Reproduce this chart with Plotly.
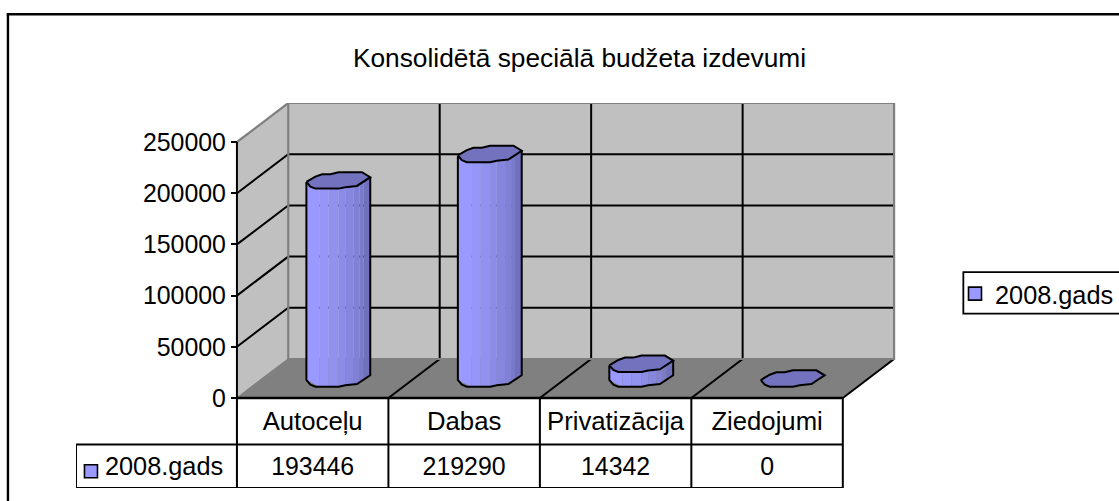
import numpy as np
import plotly.graph_objects as go

# ---------- data ----------
categories = ["Autoceļu", "Dabas", "Privatizācija", "Ziedojumi"]
series_name = "2008.gads"
values = [193446, 219290, 14342, 0]
y_ticks = [0, 50000, 100000, 150000, 200000, 250000]
title_text = "Konsolidētā speciālā budžeta izdevumi"

# ---------- layout / projection constants ----------
W, H = 1119, 501
UNIT_PX = 151.8                 # one category, in pixels
DEPTH_X_PX, DEPTH_Y_PX = 51.4, 39.0
VAL_PX = 256.0 / 250000         # pixels per value unit
DX = DEPTH_X_PX / UNIT_PX
DY = DEPTH_Y_PX / VAL_PX
NCAT = len(categories)
YMAX = y_ticks[-1]
ORIGIN_X, ORIGIN_Y = 237.0, 398.3   # pixel of value 0 at the front-left corner

def px_x(p):
    return p / UNIT_PX
def px_y(p):
    return p / VAL_PX

ROW1_Y, ROW2_Y, ROW3_Y = 0.0, -px_y(46.5), -px_y(90.0)
TABLE_LEFT = -px_x(161.3)
# the plot area runs to the right edge of the page so that the legend sits inside it
X_RANGE = [TABLE_LEFT, px_x(W - ORIGIN_X)]
Y_RANGE = [ROW3_Y, YMAX + DY]
PLOT_L = ORIGIN_X + X_RANGE[0] * UNIT_PX
PLOT_R = ORIGIN_X + X_RANGE[1] * UNIT_PX
PLOT_B = ORIGIN_Y - Y_RANGE[0] * VAL_PX
PLOT_T = ORIGIN_Y - Y_RANGE[1] * VAL_PX

def paper_x(p):
    return (p - PLOT_L) / (PLOT_R - PLOT_L)
def paper_y(p):
    return (PLOT_B - p) / (PLOT_B - PLOT_T)

# Cylinder outline profile, in pixels around the cylinder axis (y down)
BACK_EDGE = [(-32, 1.5), (-23, -3.8), (-16.3, -6.2), (-8, -6.2), (0.3, -8.2), (23.7, -8.2), (32, -3.2)]
FRONT_EDGE = [(-32, 1.5), (-28, 6.2), (-23, 8.2), (0.3, 8.2), (7, 6.8), (18.7, 5.5), (32, -3.2)]
STRIP_EDGES = [-32, -18.7, -9.7, 0.3, 7, 15.3, 21.3, 25.3, 32]
STRIP_COLORS = ["#9999FF", "#9696F9", "#9191F0", "#8C8CE8", "#8686DE", "#8080D4", "#7A7ACA", "#7070BC"]
CAP_COLOR = "#7272BF"
WALL = "#C0C0C0"
FLOOR = "#808080"
EDGE = "#808080"
BLACK = "#000000"
LINE_W = 2.0
FONT = "Liberation Sans, Arial, sans-serif"
FS_NUM = 24.9
FS_KEY = 25.3
FS_CAT = 25.7
FS_TITLE = 26.3

fig = go.Figure()

def poly(xs, ys, fill=None, line=None, width=0, closed=True):
    xs, ys = list(xs), list(ys)
    if closed:
        xs.append(xs[0]); ys.append(ys[0])
    fig.add_trace(go.Scatter(
        x=xs, y=ys, mode="lines", showlegend=False, hoverinfo="skip", cliponaxis=False,
        fill="toself" if fill else "none", fillcolor=fill,
        line=dict(color=line or "rgba(0,0,0,0)", width=width),
    ))

def seg(xs, ys, color=BLACK, width=LINE_W):
    poly(xs, ys, line=color, width=width, closed=False)

# walls and floor
poly([0, DX, DX, 0], [0, DY, YMAX + DY, YMAX], fill=WALL)
poly([DX, NCAT + DX, NCAT + DX, DX], [DY, DY, YMAX + DY, YMAX + DY], fill=WALL)
poly([0, NCAT, NCAT + DX, DX], [0, 0, DY, DY], fill=FLOOR)

# gridlines
for t in y_ticks[1:-1]:
    seg([0, DX, NCAT + DX], [t, t + DY, t + DY])
for i in range(1, NCAT):
    seg([i, i + DX, i + DX], [0, DY, YMAX + DY])
seg([NCAT, NCAT + DX], [0, DY])

# wall edges
seg([0, DX, NCAT + DX, NCAT + DX, DX], [YMAX, YMAX + DY, YMAX + DY, DY, DY], color=EDGE, width=2.2)
seg([DX, DX], [DY, YMAX + DY], color=EDGE, width=2.2)
seg([0, DX], [0, DY], color=EDGE, width=1.5)

# cylinders
fx = [p[0] for p in FRONT_EDGE]
fy = [p[1] for p in FRONT_EDGE]
for i, v in enumerate(values):
    cx = i + 0.5 + DX / 2
    base = DY / 2
    top = base + v
    if v > 0:
        for j, col in enumerate(STRIP_COLORS):
            a, b = STRIP_EDGES[j], STRIP_EDGES[j + 1]
            ya, yb = np.interp([a, b], fx, fy)
            poly([cx + px_x(a), cx + px_x(b), cx + px_x(b), cx + px_x(a)],
                 [base - px_y(ya), base - px_y(yb), top - px_y(yb), top - px_y(ya)], fill=col)
        # body outline
        seg([cx + px_x(fx[0])] + [cx + px_x(a) for a in fx] + [cx + px_x(fx[-1])],
            [top - px_y(fy[0])] + [base - px_y(b) for b in fy] + [top - px_y(fy[-1])])
    cap = BACK_EDGE + FRONT_EDGE[::-1][1:-1]
    poly([cx + px_x(p[0]) for p in cap], [top - px_y(p[1]) for p in cap],
         fill=CAP_COLOR, line=BLACK, width=LINE_W)

# data table lines
seg([0, NCAT], [ROW1_Y, ROW1_Y], width=2.4)
seg([TABLE_LEFT, NCAT], [ROW2_Y, ROW2_Y])
seg([TABLE_LEFT, NCAT], [ROW3_Y, ROW3_Y])
seg([TABLE_LEFT, TABLE_LEFT], [ROW2_Y, ROW3_Y])
seg([0, 0], [YMAX, ROW3_Y], width=2)
for i in range(1, NCAT + 1):
    seg([i, i], [ROW1_Y, ROW3_Y])

# table value row
row2_text = -px_y(71.0)
row2_key = -px_y(73.2)
fig.add_trace(go.Scatter(
    x=[i + 0.5 for i in range(NCAT)], y=[row2_text] * NCAT, mode="text",
    text=[str(v) for v in values], textposition="middle center",
    textfont=dict(family=FONT, size=FS_NUM, color=BLACK),
    cliponaxis=False, showlegend=False, hoverinfo="skip"))
# table series label
fig.add_trace(go.Scatter(
    x=[TABLE_LEFT + px_x(29)], y=[row2_text], mode="text", text=[series_name],
    textposition="middle right", textfont=dict(family=FONT, size=FS_KEY, color=BLACK),
    cliponaxis=False, showlegend=False, hoverinfo="skip"))
# series key: in table and in legend
fig.add_trace(go.Scatter(
    x=[TABLE_LEFT + px_x(15)], y=[row2_key], mode="markers", name=series_name,
    marker=dict(symbol="square", size=13, color="#9999FF", line=dict(color=BLACK, width=1.6)),
    cliponaxis=False, showlegend=True, hoverinfo="skip"))

fig.update_layout(
    width=W, height=H, autosize=False,
    margin=dict(l=PLOT_L, r=0, t=PLOT_T, b=H - PLOT_B, pad=0),
    paper_bgcolor="white", plot_bgcolor="rgba(0,0,0,0)",
    font=dict(family=FONT, size=FS_NUM, color=BLACK),
    title=dict(text=title_text, x=579.5 / W, xanchor="center", xref="container", y=1 - 58 / H, yanchor="middle",
               yref="container", font=dict(family=FONT, size=FS_TITLE, color=BLACK)),
    xaxis=dict(range=X_RANGE, tickmode="array", tickvals=[i + 0.5 for i in range(NCAT)],
               ticktext=categories, showgrid=False, zeroline=False, showline=False, ticks="",
               anchor="free", position=paper_y(ORIGIN_Y),
               ticklabelstandoff=5, tickfont=dict(family=FONT, size=FS_CAT, color=BLACK)),
    yaxis=dict(range=Y_RANGE, tickmode="array", tickvals=y_ticks, ticktext=[str(t) for t in y_ticks],
               showgrid=False, zeroline=False, showline=False, ticks="outside", ticklen=6, tickwidth=2,
               anchor="free", position=paper_x(ORIGIN_X),
               tickcolor=BLACK, tickfont=dict(family=FONT, size=FS_NUM, color=BLACK)),
    legend=dict(x=paper_x(957), y=paper_y(294), xanchor="left", yanchor="middle",
                entrywidth=107, entrywidthmode="pixels",
                bgcolor="rgba(0,0,0,0)", borderwidth=0, font=dict(family=FONT, size=FS_KEY, color=BLACK)),
    shapes=[
        dict(type="rect", xref="paper", yref="paper", x0=paper_x(965), x1=paper_x(1130), y0=paper_y(272.5), y1=paper_y(314),
             line=dict(color=BLACK, width=1.8), fillcolor="white", layer="below"),
        dict(type="line", xref="paper", yref="paper", x0=paper_x(7.5), x1=paper_x(7.5), y0=paper_y(14.5), y1=paper_y(510),
             line=dict(color=BLACK, width=2.4)),
        dict(type="line", xref="paper", yref="paper", x0=paper_x(6.3), x1=paper_x(1130), y0=paper_y(14.5), y1=paper_y(14.5),
             line=dict(color=BLACK, width=2.4)),
    ],
)

fig.write_html("out.html", config=dict(displayModeBar=False),
               post_script="document.body.style.margin='0';document.documentElement.style.overflow='hidden';")
